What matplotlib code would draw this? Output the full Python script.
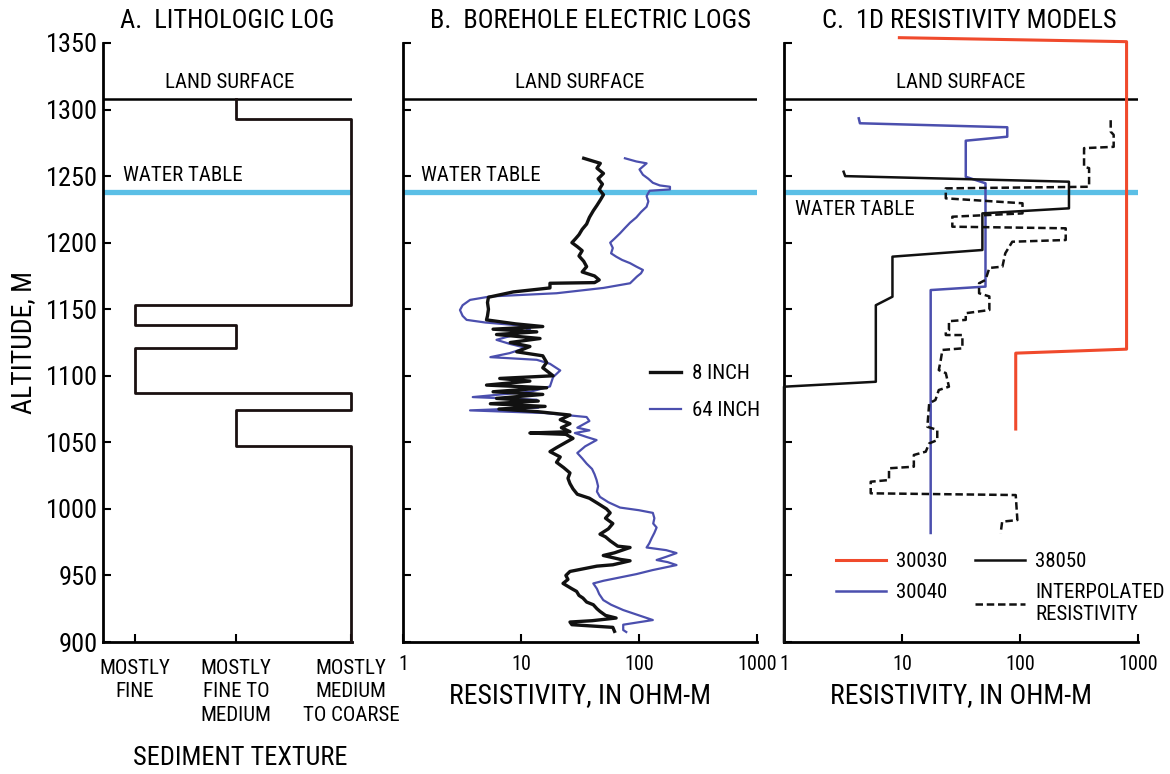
import matplotlib.pyplot as plt

plt.rcParams['font.family'] = ['Roboto Condensed', 'DejaVu Sans']

land_surface = 1308
water_table = 1238

# A. lithologic log: texture class (0 fine, 1 fine-medium, 2 medium-coarse) between altitude breaks
texture_labels = ['MOSTLY\nFINE', 'MOSTLY\nFINE TO\nMEDIUM', 'MOSTLY\nMEDIUM\nTO COARSE']
litho_top = [1308, 1293, 1153, 1138, 1121, 1087, 1074, 1047]
litho_bottom = [1293, 1153, 1138, 1121, 1087, 1074, 1047, 900]
litho_class = [1, 2, 0, 1, 0, 2, 1, 2]

# B. borehole electric logs (altitude m, resistivity ohm-m)
inch8_alt = [1263.4, 1259.6, 1256, 1252, 1248, 1244, 1240, 1236, 1232, 1228, 1224, 1219, 1214,
             1210, 1206, 1203, 1200, 1197, 1194, 1190, 1186, 1182, 1178, 1175, 1172, 1170, 1169.5,
             1166, 1163, 1159, 1155, 1150, 1145, 1142, 1139, 1137, 1135, 1133, 1131, 1128, 1125,
             1122, 1118, 1115, 1110, 1106, 1100, 1098, 1096, 1093, 1091, 1088, 1086, 1083, 1081,
             1079, 1077, 1075, 1073, 1070.5, 1067, 1064, 1061, 1058, 1057, 1056, 1053, 1050, 1046,
             1043, 1039, 1035, 1031, 1027, 1023, 1019, 1015, 1011, 1008, 1004, 1000, 997, 993, 989,
             985, 981, 979, 976, 972, 971, 967, 965, 962, 961, 958, 957, 953, 950, 947, 944, 940,
             938, 935, 933, 930, 928, 925, 923, 920, 918, 916, 915, 913, 911, 908]
inch8_res = [34, 47, 44, 50, 45, 49, 46, 50, 47, 44, 41, 38, 36,
             33, 31, 29, 27, 30, 33, 31, 34, 36, 33, 42, 46, 42, 17.6,
             17.6, 8.6, 5.3, 5.2, 5.3, 5.2, 5.1, 9, 15.3, 5.8, 13.6, 6.2, 14.5, 8.1,
             11.9, 9.2, 15.3, 16.5, 15.3, 18.7, 6.6, 11.9, 5.1, 16.5, 5.8, 15.3, 6.2, 14,
             5.5, 16, 6.5, 14, 26, 21.5, 26, 22, 26, 11.9, 24, 27.6, 24, 20,
             17.6, 21.5, 20, 23, 26, 25, 26, 27.6, 30, 38, 45, 53, 57, 52, 60,
             55, 46.7, 52, 57, 66, 84, 62, 49.8, 70, 84, 60, 44, 26, 24, 25, 22.7, 27,
             29.6, 31, 33.5, 36, 41, 44, 46.7, 52, 64, 40, 26, 27, 60, 62]

inch64_alt = [1263.4, 1261, 1259.6, 1255, 1251, 1248, 1245, 1243, 1242, 1240, 1239, 1235, 1231,
              1227, 1223, 1219, 1215, 1211, 1207, 1203, 1200, 1196, 1192, 1189.5, 1187, 1184.6,
              1182, 1179.5, 1177, 1174.5, 1169.5, 1166, 1162, 1159.6, 1157, 1153, 1149.4, 1145,
              1142, 1140, 1138, 1135, 1131, 1127, 1124, 1121, 1117, 1114, 1112, 1109, 1104, 1099,
              1092, 1088, 1084, 1082, 1079, 1076, 1074, 1072, 1069, 1066, 1061, 1059, 1057, 1054,
              1051.7, 1047, 1042, 1038, 1034, 1030, 1026, 1021.7, 1017, 1013, 1009, 1005, 1001,
              999, 997, 993, 989, 986, 982, 978, 974, 971, 969, 966.8, 964, 961.6, 960, 957.8,
              954, 951, 949, 946, 944, 940, 936, 931.5, 928, 924, 920, 916.5, 913, 909, 907.5]
inch64_res = [76, 95, 116, 101, 108, 120, 131, 150, 183, 183, 123, 116, 120,
              116, 104, 95, 84, 76, 69, 62, 57, 60, 58, 64, 72, 84,
              95, 108, 104, 96, 84, 50, 20, 5.5, 3.7, 3.2, 3.04, 3.2,
              3.46, 5, 9.2, 11.9, 9, 6.2, 8, 11, 8, 5.5, 13.6, 17.6, 21.5, 18.7,
              17.6, 12, 3.9, 13.6, 8, 14, 3.7, 16, 36, 38, 30, 38, 28.6, 36,
              43.7, 35, 30, 33, 36, 40, 42, 43.7, 45, 44, 46.7, 55, 69,
              100, 131, 135, 132, 141, 135, 128, 122, 116, 170, 208, 170, 141, 175, 208,
              130, 95, 73.5, 50, 41, 44, 46, 49.8, 58, 73.5, 100, 131, 73.5, 73.5, 78]

# C. 1D resistivity models
m30030_alt = [1354, 1351, 1120, 1117, 1060]
m30030_res = [9.5, 800, 800, 92, 92]

m30040_alt = [1293.4, 1289.7, 1286.7, 1279.6, 1276.6, 1249.5, 1244.6, 1167, 1164.4, 981.9]
m30040_res = [4.3, 4.4, 78, 78, 34.7, 34.7, 51, 51, 17.5, 17.5]

m38050_alt = [1253.3, 1250, 1245.8, 1225.8, 1222, 1194.5, 1189.5, 1159.4, 1153, 1095.5, 1091.8, 900]
m38050_res = [3.2, 3.3, 260, 260, 48, 48, 8.3, 8.3, 6, 6, 1, 1]

interp_alt = [1292, 1283.4, 1281, 1272, 1271, 1257, 1256, 1242, 1240.8, 1233.3, 1229.6, 1222,
              1219.5, 1212, 1210.8, 1202, 1200.7, 1192, 1182, 1181, 1172, 1169.5, 1162, 1159.6,
              1149.4, 1147, 1142, 1141, 1134.4, 1133, 1130.6, 1130.6, 1120.6, 1119.4, 1111.8,
              1104.3, 1102, 1091.8, 1089.3, 1081.8, 1079.3, 1061.7, 1059.3, 1051.7, 1049.2,
              1043, 1040.5, 1031.7, 1030.5, 1021.7, 1020.4, 1011.7, 1010.4, 991.6, 990.4, 981.6]
interp_res = [587, 587, 622, 622, 349, 349, 385, 385, 23.5, 23.5, 105, 105,
              26.7, 26.7, 244, 244, 86, 75, 71, 55, 51, 45, 45, 55,
              55, 34.7, 34.7, 25, 25, 23.5, 23.5, 32.5, 32.5, 22, 21.3,
              20.5, 23.5, 25, 20.5, 19.2, 17, 16.4, 19.9, 19.9, 17,
              15.9, 12.6, 12.6, 7.76, 7.76, 5.43, 5.43, 92, 95, 70.6, 68.5]

W, H = 1170, 774
fig = plt.figure(figsize=(W / 100, H / 100), dpi=100)
fig.patch.set_facecolor('white')

wt_color = '#5bbfe6'
red = '#f04a2c'
blue = '#4b4fae'


def box(l, r, t, b):
    return [l / W, 1 - b / H, (r - l) / W, (b - t) / H]


def style(ax):
    for s in ['top', 'right']:
        ax.spines[s].set_visible(False)
    for s in ['left', 'bottom']:
        ax.spines[s].set_linewidth(2)
    ax.set_ylim(900, 1350)
    ax.set_yticks(range(900, 1351, 50))
    ax.tick_params(direction='in', length=6, width=1.5, labelsize=14.5)
    ax.tick_params(axis='x', pad=9)
    ax.axhline(land_surface, color='black', lw=1.8)
    ax.axhline(water_table, color=wt_color, lw=3.8, zorder=1)


# ---- A ----
axA = fig.add_axes(box(103, 352, 43, 642))
style(axA)
tex_x = [1, 2, 3.14]
xs, ys = [], []
for top, bot, c in zip(litho_top, litho_bottom, litho_class):
    xs += [tex_x[c], tex_x[c]]
    ys += [top, bot]
axA.plot(xs, ys, color='#1a1010', lw=2, clip_on=False, zorder=3)
axA.set_xlim(0.683, 3.15)
axA.set_xticks(tex_x)
axA.set_xticklabels(texture_labels, fontsize=15, linespacing=1.3)
axA.tick_params(axis='x', pad=12)
axA.tick_params(axis='y', labelsize=19, pad=4)
axA.set_ylabel('ALTITUDE, M', fontsize=20, labelpad=6)
axA.text(0.51, 1313, 'LAND SURFACE', ha='center', va='bottom', fontsize=15,
         transform=axA.get_yaxis_transform())
axA.text(0.08, 1243, 'WATER TABLE', ha='left', va='bottom', fontsize=15,
         transform=axA.get_yaxis_transform())
fig.text(240 / W, 1 - 758 / H, 'SEDIMENT TEXTURE', ha='center', va='center', fontsize=19)
fig.text(227 / W, 1 - 21 / H, 'A.  LITHOLOGIC LOG', ha='center', va='center', fontsize=19)

# ---- B ----
axB = fig.add_axes(box(403, 757, 43, 642))
style(axB)
axB.set_xscale('log')
axB.set_xlim(1, 1000)
axB.set_xticks([1, 10, 100, 1000])
axB.set_xticklabels(['1', '10', '100', '1000'])
axB.minorticks_off()
axB.set_yticklabels([])
axB.plot(inch64_res, inch64_alt, color=blue, lw=1.6, label='64 INCH', zorder=2)
axB.plot(inch8_res, inch8_alt, color='#111111', lw=2.4, label='8 INCH', zorder=3)
axB.set_xlabel('RESISTIVITY, IN OHM-M', fontsize=20, labelpad=6)
axB.text(0.5, 1313, 'LAND SURFACE', ha='center', va='bottom', fontsize=15,
         transform=axB.get_yaxis_transform())
axB.text(0.05, 1243, 'WATER TABLE', ha='left', va='bottom', fontsize=15,
         transform=axB.get_yaxis_transform())
h, l = axB.get_legend_handles_labels()
axB.legend(h[::-1], l[::-1], loc='center left', bbox_to_anchor=(650 / W, 1 - 392 / H),
           bbox_transform=fig.transFigure, frameon=False, fontsize=15, handlelength=1.5,
           handletextpad=0.5, labelspacing=0.85, borderpad=0, borderaxespad=0)
fig.text(590 / W, 1 - 21 / H, 'B.  BOREHOLE ELECTRIC LOGS', ha='center', va='center', fontsize=19)

# ---- C ----
axC = fig.add_axes(box(784, 1138, 43, 642))
style(axC)
axC.set_xscale('log')
axC.set_xlim(1, 1000)
axC.set_xticks([1, 10, 100, 1000])
axC.set_xticklabels(['1', '10', '100', '1000'])
axC.minorticks_off()
axC.set_yticklabels([])
axC.plot(m30030_res, m30030_alt, color=red, lw=2.2, label='30030', clip_on=False, zorder=3)
axC.plot(m30040_res, m30040_alt, color=blue, lw=1.8, label='30040', zorder=3)
axC.plot(m38050_res, m38050_alt, color='#111111', lw=1.8, label='38050', clip_on=False, zorder=3)
axC.plot(interp_res, interp_alt, color='#111111', lw=1.8, ls=(0, (3, 1.5)),
         label='INTERPOLATED\nRESISTIVITY', zorder=3)
axC.set_xlabel('RESISTIVITY, IN OHM-M', fontsize=20, labelpad=6)
axC.text(0.5, 1313, 'LAND SURFACE', ha='center', va='bottom', fontsize=15,
         transform=axC.get_yaxis_transform())
axC.text(0.03, 1232, 'WATER TABLE', ha='left', va='top', fontsize=15,
         transform=axC.get_yaxis_transform())
axC.legend(loc='upper left', bbox_to_anchor=(836 / W, 1 - 552 / H), bbox_transform=fig.transFigure,
           ncol=2, frameon=False, fontsize=15, handlelength=2.4, handletextpad=0.5,
           columnspacing=1.3, labelspacing=0.6, borderpad=0, borderaxespad=0)
fig.text(969 / W, 1 - 21 / H, 'C.  1D RESISTIVITY MODELS', ha='center', va='center', fontsize=19)

fig.savefig('out.png', dpi=100, facecolor='white')
